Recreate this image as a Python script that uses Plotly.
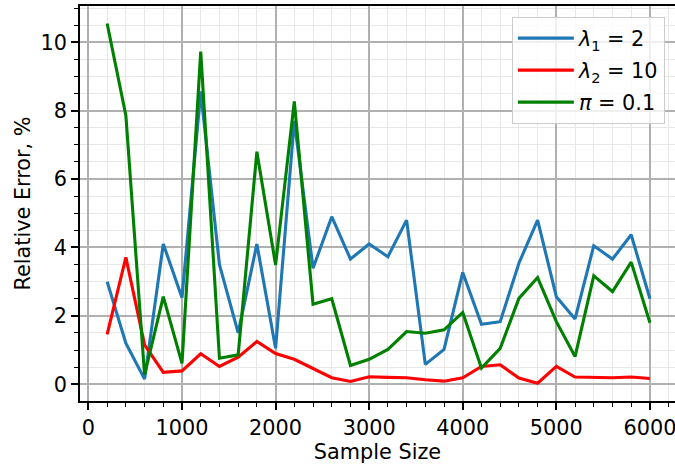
import plotly.graph_objects as go

sample_size = [200, 400, 600, 800, 1000, 1200, 1400, 1600, 1800, 2000,
               2200, 2400, 2600, 2800, 3000, 3200, 3400, 3600, 3800, 4000,
               4200, 4400, 4600, 4800, 5000, 5200, 5400, 5600, 5800, 6000]

lambda1_err = [3.0, 1.2, 0.15, 4.1, 2.53, 8.56, 3.5, 1.5, 4.1, 1.05,
               7.7, 3.39, 4.9, 3.66, 4.1, 3.73, 4.8, 0.58, 1.02, 3.27,
               1.75, 1.83, 3.54, 4.8, 2.56, 1.91, 4.05, 3.66, 4.37, 2.5]

lambda2_err = [1.46, 3.71, 1.15, 0.35, 0.39, 0.89, 0.52, 0.79, 1.25, 0.9,
               0.73, 0.47, 0.19, 0.08, 0.22, 0.2, 0.19, 0.13, 0.09, 0.19,
               0.52, 0.57, 0.18, 0.03, 0.52, 0.21, 0.19, 0.19, 0.21, 0.17]

pi_err = [10.55, 7.86, 0.27, 2.56, 0.61, 9.73, 0.76, 0.86, 6.8, 3.49,
          8.27, 2.34, 2.5, 0.55, 0.73, 1.02, 1.54, 1.49, 1.59, 2.1,
          0.47, 1.05, 2.51, 3.12, 1.83, 0.81, 3.17, 2.71, 3.57, 1.8]

series = [
    ("<i>λ</i><sub>1</sub> = 2", lambda1_err, "#1f77b4"),
    ("<i>λ</i><sub>2</sub> = 10", lambda2_err, "#ff0000"),
    ("<i>π</i> = 0.1", pi_err, "#008000"),
]

FONT = "DejaVu Sans"
FS = 20.8

fig = go.Figure()
for i, (name, vals, color) in enumerate(series):
    fig.add_trace(go.Scatter(x=sample_size, y=vals, mode="lines", name=name,
                             legendgroup=f"g{i}",
                             line=dict(color=color, width=3.1)))

axis_common = dict(
    showline=True, linecolor="black", linewidth=1.6,
    ticks="outside", ticklen=7, tickwidth=1.6, tickcolor="black",
    showgrid=True, gridcolor="#b0b0b0", gridwidth=1.6,
    zeroline=False,
    tickfont=dict(family=FONT, size=FS, color="black"),
)

fig.update_xaxes(
    **axis_common,
    range=[-90, 6268], dtick=1000, tick0=0,
    mirror=True,
    ticklabeloverflow="allow",
    minor=dict(dtick=200, tick0=0, ticks="outside", ticklen=4, tickwidth=1.2,
               tickcolor="black", showgrid=True, gridcolor="#e8e8e8", gridwidth=1),
    title=dict(text="Sample Size", font=dict(family=FONT, size=FS, color="black"), standoff=6),
)
fig.update_yaxes(
    **axis_common,
    range=[-0.49, 11.06], dtick=2, tick0=0,
    minor=dict(dtick=0.5, tick0=0, ticks="outside", ticklen=4, tickwidth=1.2,
               tickcolor="black", showgrid=True, gridcolor="#e8e8e8", gridwidth=1),
    title=dict(text="Relative Error, %", font=dict(family=FONT, size=FS, color="black"), standoff=4),
)

fig.update_layout(
    width=675, height=465,
    margin=dict(l=80, r=0, t=6, b=64),
    paper_bgcolor="white", plot_bgcolor="white",
    font=dict(family=FONT, size=FS, color="black"),
    legend=dict(x=0.983, y=0.972, xanchor="right", yanchor="top",
                bgcolor="rgba(255,255,255,0.8)", bordercolor="#cccccc", borderwidth=1,
                itemwidth=56, tracegroupgap=2,
                font=dict(family=FONT, size=FS, color="black")),
)

fig.write_html("out.html")
